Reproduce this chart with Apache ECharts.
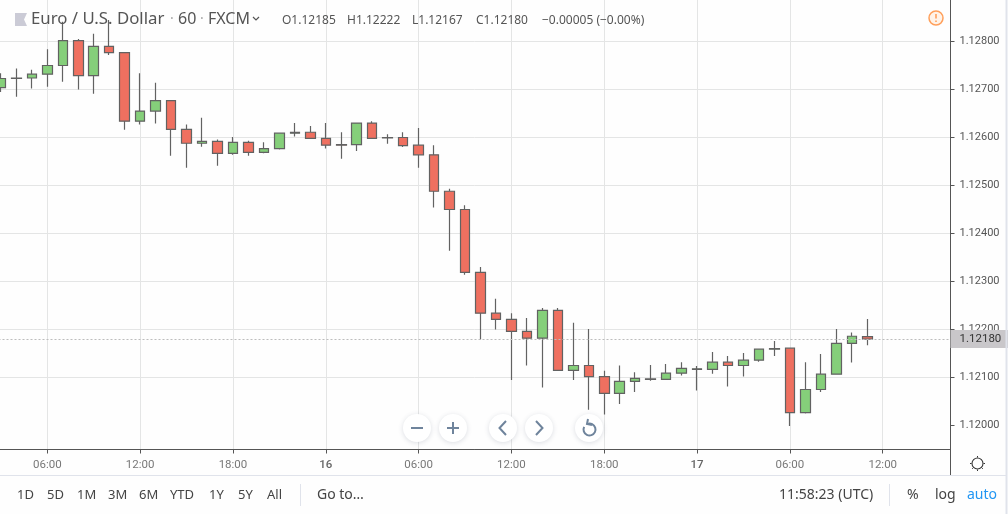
<!DOCTYPE html>
<html>
<head>
  <meta charset="utf-8">
  <title>EUR/USD 60</title>
  <script src="https://cdn.jsdelivr.net/npm/echarts@6/dist/echarts.min.js"></script>
  <style>
  html, body { margin: 0; padding: 0; background: #fefefe; }
  #main { width: 1008px; height: 514px; }
  </style>
</head>
<body>
  <div id="main"></div>
  <script type="text/javascript">
  // hours counted from 00:00 on the 15th, one candle per hour
  var hours = [3,4,5,6,7,8,9,10,11,12,13,14,15,16,17,18,19,20,21,22,23,24,25,26,27,28,29,30,31,32,33,34,35,36,37,38,39,40,41,42,43,44,45,46,47,48,49,50,51,52,53,54,55,56,57,58,59];
  var opens = [1.12704,1.12723,1.12724,1.12732,1.12750,1.12802,1.12729,1.12790,1.12777,1.12634,1.12655,1.12677,1.12617,1.12588,1.12592,1.12567,1.12590,1.12569,1.12577,1.12609,1.12611,1.12598,1.12585,1.12585,1.12630,1.12599,1.12600,1.12584,1.12564,1.12488,1.12450,1.12319,1.12234,1.12221,1.12196,1.12182,1.12240,1.12115,1.12125,1.12102,1.12067,1.12092,1.12096,1.12096,1.12109,1.12117,1.12117,1.12132,1.12125,1.12136,1.12159,1.12161,1.12027,1.12075,1.12107,1.12171,1.12185];
  var closes = [1.12723,1.12724,1.12732,1.12750,1.12802,1.12729,1.12790,1.12777,1.12634,1.12655,1.12677,1.12617,1.12588,1.12592,1.12567,1.12590,1.12569,1.12577,1.12609,1.12611,1.12598,1.12584,1.12584,1.12630,1.12598,1.12600,1.12583,1.12564,1.12488,1.12450,1.12319,1.12234,1.12221,1.12196,1.12182,1.12240,1.12115,1.12125,1.12102,1.12067,1.12092,1.12098,1.12097,1.12109,1.12119,1.12118,1.12132,1.12125,1.12136,1.12159,1.12160,1.12027,1.12075,1.12107,1.12171,1.12186,1.12180];
  var lows = [1.12695,1.12685,1.12702,1.12706,1.12716,1.12700,1.12691,1.12772,1.12616,1.12627,1.12629,1.12562,1.12537,1.12581,1.12541,1.12564,1.12562,1.12567,1.12575,1.12602,1.12598,1.12577,1.12556,1.12572,1.12598,1.12587,1.12580,1.12537,1.12454,1.12364,1.12314,1.12179,1.12200,1.12095,1.12125,1.12079,1.12115,1.12095,1.12033,1.12023,1.12045,1.12070,1.12093,1.12096,1.12104,1.12073,1.12108,1.12081,1.12102,1.12133,1.12145,1.11999,1.12025,1.12070,1.12107,1.12131,1.12167];
  var highs = [1.12734,1.12744,1.12741,1.12784,1.12841,1.12805,1.12816,1.12845,1.12777,1.12734,1.12714,1.12677,1.12627,1.12641,1.12596,1.12601,1.12593,1.12590,1.12609,1.12630,1.12624,1.12630,1.12611,1.12630,1.12634,1.12607,1.12611,1.12620,1.12584,1.12493,1.12459,1.12330,1.12264,1.12234,1.12224,1.12245,1.12245,1.12214,1.12201,1.12114,1.12125,1.12111,1.12126,1.12128,1.12132,1.12124,1.12153,1.12145,1.12151,1.12159,1.12176,1.12161,1.12132,1.12149,1.12201,1.12194,1.12222];
  var lastPrice = 1.1218;

  var priceTicks = [1.12,1.121,1.122,1.123,1.124,1.125,1.126,1.127,1.128];
  var timeTickHours = [6,12,18,24,30,36,42,48,54,60];
  var timeTickLabels = ['06:00','12:00','18:00','16','06:00','12:00','18:00','17','06:00','12:00'];

  var titleParts = ['Euro / U.S. Dollar', '60', 'FXCM'];
  var ohlcParts = ['O1.12185', 'H1.12222', 'L1.12167', 'C1.12180', '\u22120.00005 (\u22120.00%)'];
  var rangeButtons = ['1D','5D','1M','3M','6M','YTD','1Y','5Y','All'];

  var FONT = '"Noto Sans", sans-serif';
  var AXIS_FONT = 'Roboto, sans-serif';
  var candles = opens.map(function (o, i) {
    return [hours[i], o, closes[i], lows[i], highs[i]];
  });

  function txt(s, x, y, size, color) {
    return { type: 'text', x: x, y: y, silent: true, z: 20, style: {
      text: s, fill: color || '#555', font: size + 'px ' + FONT, textVerticalAlign: 'middle'
    } };
  }
  function line(x1, y1, x2, y2, color, w) {
    return { type: 'line', silent: true, z: 20, shape: { x1: x1, y1: y1, x2: x2, y2: y2 },
      style: { stroke: color, lineWidth: w || 1 } };
  }
  function poly(points, color, w) {
    return { type: 'polyline', silent: true, z: 22, shape: { points: points },
      style: { stroke: color, lineWidth: w || 2, fill: null } };
  }
  function roundBtn(x) {
    return { type: 'circle', silent: true, z: 21, shape: { cx: x, cy: 428, r: 14 },
      style: { fill: '#fff', shadowBlur: 5, shadowColor: 'rgba(60,70,100,0.18)', shadowOffsetY: 1 } };
  }

  var iconColor = '#6f849c';
  var graphics = [
    { type: 'polygon', silent: true, z: 20, shape: { points: [[15,13],[27,13],[24,19.5],[27,26],[15,26]] }, style: { fill: '#cbcbd6' } },
    txt(titleParts[0], 31, 19.5, 16.8), txt('\u00b7', 170, 19.5, 14, '#aaa'),
    txt(titleParts[1], 178, 19.5, 16), txt('\u00b7', 200, 19.5, 14, '#aaa'),
    txt(titleParts[2], 208, 19.5, 16),
    poly([[253,17],[256,20],[259,17]], '#555', 1.2),
    txt(ohlcParts[0], 282, 20.5, 12), txt(ohlcParts[1], 347, 20.5, 12), txt(ohlcParts[2], 412, 20.5, 12),
    txt(ohlcParts[3], 476, 20.5, 12), txt(ohlcParts[4], 542, 20.5, 12),
    // warning badge
    { type: 'circle', silent: true, z: 20, shape: { cx: 936, cy: 18, r: 7 }, style: { fill: '#fff3e8', stroke: '#ff9f5a', lineWidth: 1.5 } },
    line(936, 14, 936, 18.5, '#ff9f5a', 1.6), line(936, 20.5, 936, 22, '#ff9f5a', 1.6),
    // zoom and scroll buttons
    roundBtn(417), roundBtn(453), roundBtn(503), roundBtn(539), roundBtn(589),
    poly([[411,428],[423,428]], iconColor), poly([[447,428],[459,428]], iconColor), poly([[453,422],[453,434]], iconColor),
    poly([[506,421],[499.5,428],[506,435]], iconColor), poly([[536,421],[542.5,428],[536,435]], iconColor),
    { type: 'arc', silent: true, z: 22, shape: { cx: 589.5, cy: 429.5, r: 6, startAngle: -1.9, endAngle: 3.6, clockwise: true }, style: { stroke: iconColor, lineWidth: 2, fill: null } },
    poly([[588,419],[587,424],[592,425]], iconColor),
    // settings sun
    { type: 'circle', silent: true, z: 20, shape: { cx: 977.5, cy: 463.5, r: 5.5 }, style: { fill: 'none', stroke: '#333', lineWidth: 1.1 } },
    line(977.5, 456, 977.5, 457.5, '#333'), line(977.5, 469.5, 977.5, 471, '#333'),
    line(970, 463.5, 971.5, 463.5, '#333'), line(983.5, 463.5, 985, 463.5, '#333'),
    line(972.2, 468.8, 973.2, 467.8, '#333'), line(982.8, 468.8, 981.8, 467.8, '#333'),
    // frame and bottom toolbar
    { type: 'rect', silent: true, z: 5, shape: { x: 0, y: 475.5, width: 1006, height: 38 }, style: { fill: '#fefefe' } },
    line(0, 475.5, 1006, 475.5, '#e0e3eb'), line(1006.5, 0, 1006.5, 514, '#e0e3eb', 2),
    line(950.5, 449, 950.5, 475, '#555'),
    line(300.5, 484, 300.5, 506, '#e0e3eb'), line(889.5, 484, 889.5, 506, '#e0e3eb'),
    txt('Go to\u2026', 317, 495, 14, '#444'),
    txt('11:58:23 (UTC)', 779, 495, 14, '#444'),
    txt('%', 907, 495, 14, '#444'), txt('log', 935, 495, 14, '#444'), txt('auto', 967, 495, 14, '#2196f3')
  ];
  var rangeX = [17, 47, 77, 108, 139, 170, 209, 238, 267];
  rangeButtons.forEach(function (b, i) { graphics.push(txt(b, rangeX[i], 495, 13, '#444')); });

  var myChart = echarts.init(document.getElementById('main'));
  var option = {
    animation: false,
    backgroundColor: '#fefefe',
    grid: { left: -45.5, right: 57.5, top: 0, bottom: 64.5, outerBoundsMode: 'none' },
    xAxis: {
      type: 'value',
      min: 0,
      max: 64.38,
      interval: 6,
      axisLine: { onZero: false, lineStyle: { color: '#555' } },
      axisTick: { length: 4, lineStyle: { color: '#555' } },
      splitLine: { show: true, showMinLine: false, showMaxLine: false, lineStyle: { color: '#e4e5e5' } },
      axisLabel: {
        margin: 10,
        fontFamily: AXIS_FONT,
        fontSize: 11.5,
        color: '#787878',
        showMinLabel: false,
        showMaxLabel: false,
        formatter: function (v) {
          var i = timeTickHours.indexOf(v);
          if (i < 0) return '';
          var s = timeTickLabels[i];
          return s.length < 3 ? '{day|' + s + '}' : s;
        },
        rich: { day: { fontFamily: AXIS_FONT, fontSize: 11.5, fontWeight: 500, color: '#666' } }
      }
    },
    yAxis: {
      type: 'value',
      position: 'right',
      scale: true,
      min: 1.1195,
      max: 1.128865,
      splitNumber: 9,
      axisLine: { show: true, onZero: false, lineStyle: { color: '#555' } },
      axisTick: { show: true, length: 4, customValues: priceTicks.concat([lastPrice]), lineStyle: { color: '#555' } },
      splitLine: { show: true, showMinLine: false, showMaxLine: false, lineStyle: { color: '#e4e5e5' } },
      axisLabel: {
        margin: 9,
        padding: [6, 0, 0, 0],
        fontFamily: AXIS_FONT,
        fontSize: 11,
        color: '#555',
        customValues: priceTicks,
        formatter: function (v) { return v.toFixed(5); }
      }
    },
    series: [{
      type: 'candlestick',
      data: candles,
      encode: { x: 0, y: [1, 2, 3, 4] },
      barWidth: 10,
      itemStyle: {
        color: '#85cf7a',
        color0: '#ef7060',
        borderColor: '#626262',
        borderColor0: '#626262',
        borderColorDoji: '#626262',
        borderWidth: 1.2
      },
      markLine: {
        silent: true,
        symbol: 'none',
        animation: false,
        precision: 5,
        data: [{ yAxis: lastPrice }],
        lineStyle: { type: [2, 2], color: '#bdbdbd', width: 1 },
        label: {
          position: 'end',
          distance: 0,
          formatter: function () { return lastPrice.toFixed(5); },
          fontFamily: AXIS_FONT,
          fontSize: 11.5,
          color: '#333',
          backgroundColor: '#c9c7ca',
          padding: [4, 9, 2, 9]
        }
      }
    }],
    graphic: graphics
  };
  myChart.setOption(option);
  </script>
</body>
</html>
